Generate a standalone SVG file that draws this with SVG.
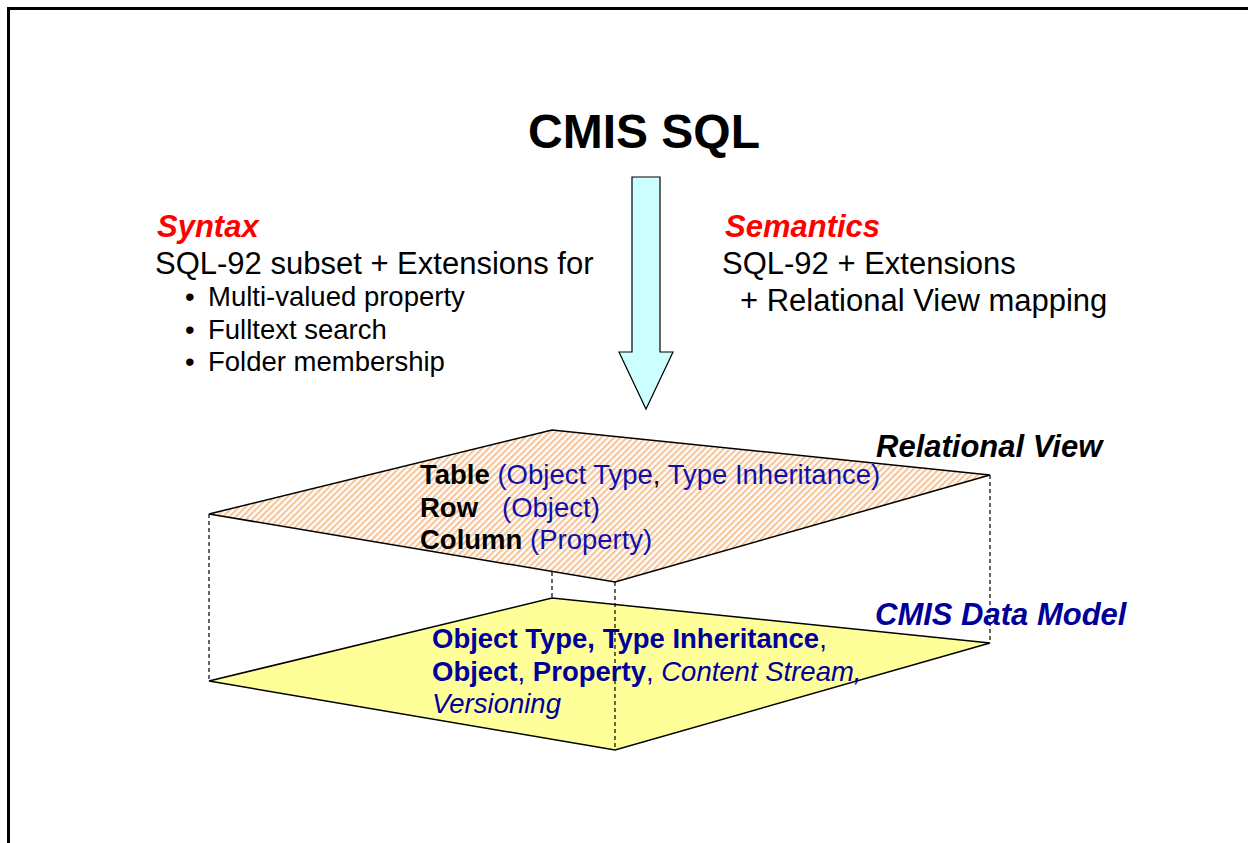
<svg xmlns="http://www.w3.org/2000/svg" width="1248" height="843" viewBox="0 0 1248 843">
<style>
text{font-family:"Liberation Sans",Arial,sans-serif}
.t31{font-size:31px}
.t27{font-size:27.5px}
.b{font-weight:bold}
.i{font-style:italic}
.red{fill:#ff0000}
.blk{fill:#000}
.blu{fill:#1010a8}
.navy{fill:#000099}
.plane{stroke:#000;stroke-width:1.5}
.dash{stroke:#000;stroke-width:1.2;stroke-dasharray:4,3;fill:none}
</style>
<defs>
<pattern id="hatch" patternUnits="userSpaceOnUse" width="4.5" height="4.5" patternTransform="rotate(45)">
<rect width="4.5" height="4.5" fill="#ffffff"/>
<rect width="2.2" height="4.5" fill="#f8c59a"/>
</pattern>
</defs>
<rect width="1248" height="843" fill="#fff"/>
<g id="frame">
<path d="M8.5 843 V8.5 H1248" fill="none" stroke="#000" stroke-width="3"/>
</g>
<g id="title">
<text x="644" y="148" text-anchor="middle" class="b blk" font-size="48">CMIS SQL</text>
</g>
<g id="arrow">
<polygon points="632,177 660,177 660,352 673,352 646,409 619,352 632,352" fill="#ccffff" stroke="#000" stroke-width="1.2"/>
</g>
<g id="syntax">
<text x="157" y="237" class="t31 b i red">Syntax</text>
<text x="155" y="274" class="t31 blk">SQL-92 subset + Extensions for</text>
<text x="185" y="306" class="t27 blk">•</text>
<text x="208" y="306" class="t27 blk">Multi-valued property</text>
<text x="185" y="339" class="t27 blk">•</text>
<text x="208" y="339" class="t27 blk">Fulltext search</text>
<text x="185" y="371" class="t27 blk">•</text>
<text x="208" y="371" class="t27 blk">Folder membership</text>
</g>
<g id="semantics">
<text x="725" y="237" class="t31 b i red">Semantics</text>
<text x="722" y="274" class="t31 blk">SQL-92 + Extensions</text>
<text x="740" y="311" class="t31 blk">+ Relational View mapping</text>
</g>
<g id="connectors">
<line x1="209" y1="514" x2="209" y2="681" class="dash"/>
<line x1="990" y1="475" x2="990" y2="643" class="dash"/>
<line x1="552" y1="572" x2="552" y2="598" class="dash"/>
</g>
<g id="data-model">
<polygon points="209,681 552,598 990,643 615,750" fill="#ffff99" class="plane"/>
<text x="875" y="625" class="t31 b i navy">CMIS Data Model</text>
<text x="432" y="648" class="t27 navy"><tspan class="b">Object Type, Type Inheritance</tspan>,</text>
<text x="432" y="681" class="t27 navy"><tspan class="b">Object</tspan>, <tspan class="b">Property</tspan>, <tspan class="i">Content Stream,</tspan></text>
<text x="432" y="713" class="t27 navy i">Versioning</text>
</g>
<g id="relational-view">
<polygon points="209,514 552,430 990,475 615,582" fill="url(#hatch)" class="plane"/>
<text x="876" y="457" class="t31 b i blk">Relational View</text>
<text x="420" y="484" class="t27"><tspan class="b blk">Table</tspan> <tspan class="blu">(Object Type</tspan><tspan class="blk">,</tspan> <tspan class="blu">Type Inheritance)</tspan></text>
<text x="420" y="517" class="t27"><tspan class="b blk">Row</tspan><tspan class="blu" x="502">(Object)</tspan></text>
<text x="420" y="549" class="t27"><tspan class="b blk">Column</tspan> <tspan class="blu">(Property)</tspan></text>
</g>
<g id="connectors-front">
<line x1="615" y1="582" x2="615" y2="750" class="dash"/>
</g>
</svg>
